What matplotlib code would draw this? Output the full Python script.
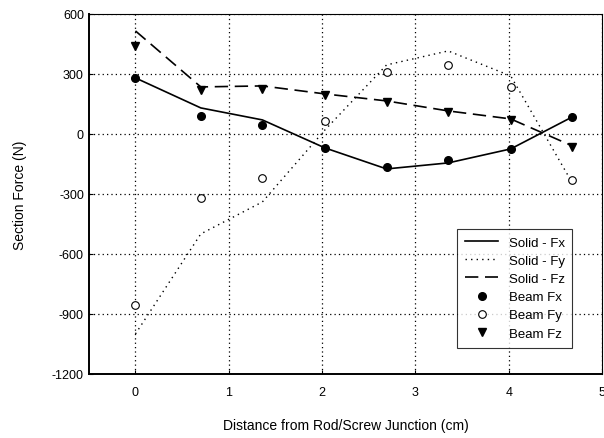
import numpy as np
import matplotlib.pyplot as plt

plt.rcParams['font.family'] = ['Liberation Sans', 'DejaVu Sans']
plt.rcParams['axes.unicode_minus'] = False

# distance along the screw (cm)
dist = [0, 0.7, 1.36, 2.03, 2.69, 3.35, 4.02, 4.68]

# solid model section forces (N)
solid_fx = [280, 130, 70, -70, -175, -145, -75, 85]
solid_fy = [-1000, -500, -340, 20, 345, 415, 290, -245]
solid_fz = [515, 235, 240, 200, 165, 115, 75, -60]

# beam model section forces (N)
beam_fx = [281, 90, 45, -70, -165, -130, -75, 85]
beam_fy = [-855, -320, -220, 65, 310, 345, 235, -230]
beam_fz = [440, 220, 225, 195, 160, 110, 70, -65]

xticks = [0, 1, 2, 3, 4, 5]
yticks = [-1200, -900, -600, -300, 0, 300, 600]

fig = plt.figure(figsize=(6.04, 4.39), dpi=100)
ax = fig.add_axes([0.147, 0.146, 0.85, 0.82])

ax.plot(dist, solid_fx, color='black', lw=1.2, ls='-', label='Solid - Fx')
ax.plot(dist, solid_fy, color='black', lw=1.0, ls=(0, (1, 3)), label='Solid - Fy')
ax.plot(dist, solid_fz, color='black', lw=1.2, ls=(0, (8, 4)), label='Solid - Fz')
ax.plot(dist, beam_fx, 'o', color='black', ms=5.5, label='Beam Fx')
ax.plot(dist, beam_fy, 'o', mfc='white', mec='black', mew=0.8, ms=5.5, label='Beam Fy')
ax.plot(dist, beam_fz, 'v', color='black', ms=5.5, label='Beam Fz')

ax.set_xlim(-0.5, 5)
ax.set_ylim(-1200, 600)
ax.set_xticks(xticks)
ax.set_yticks(yticks)
ax.grid(True, color='black', ls=(0, (1, 2.5)), lw=0.9)
ax.tick_params(direction='in', length=3, labelsize=9)
ax.tick_params(axis='x', pad=9)

for s in ['left', 'bottom']:
    ax.spines[s].set_linewidth(1.4)
for s in ['top', 'right']:
    ax.spines[s].set_linewidth(0.8)

ax.set_xlabel('Distance from Rod/Screw Junction (cm)', fontsize=10, labelpad=14)
ax.set_ylabel('Section Force (N)', fontsize=10, labelpad=18)

leg = ax.legend(loc='lower right', bbox_to_anchor=(0.955, 0.055), fontsize=9.5,
                frameon=True, fancybox=False, edgecolor='black',
                handlelength=2.5, labelspacing=0.45, borderpad=0.6)
leg.get_frame().set_linewidth(0.8)

fig.savefig('out.png', dpi=100)
